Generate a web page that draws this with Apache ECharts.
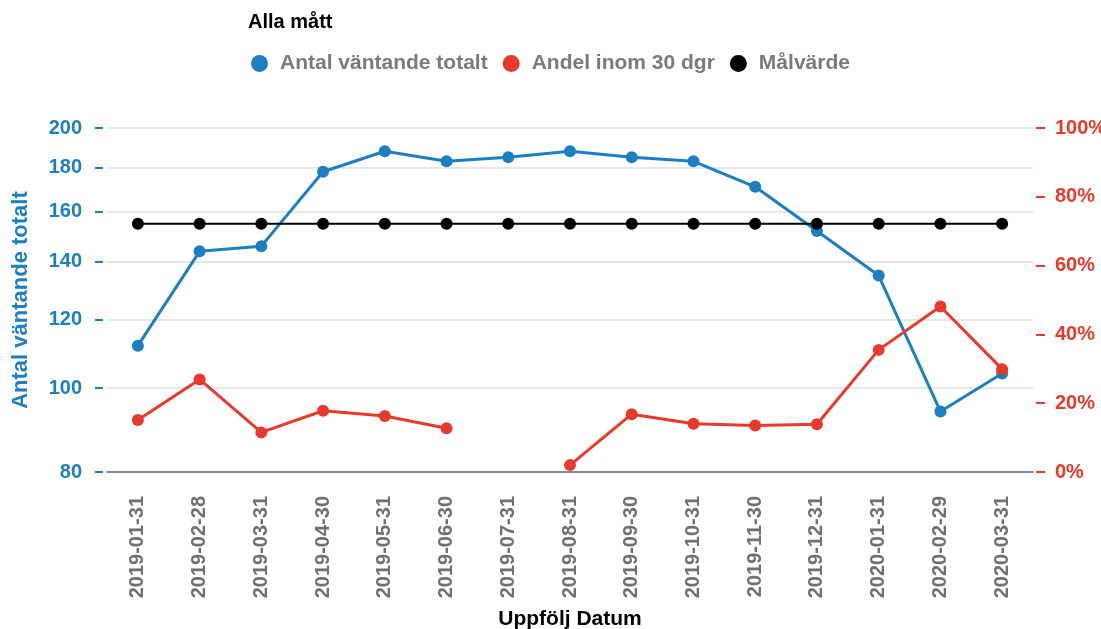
<!DOCTYPE html>
<html>
<head>
<meta charset="utf-8">
<script src="https://cdn.jsdelivr.net/npm/echarts@6/dist/echarts.min.js"></script>
<style>html,body{margin:0;padding:0;background:#fff;}#c{width:1101px;height:629px;}</style>
</head>
<body>
<div id="c"></div>
<script>
const categories = ['2019-01-31','2019-02-28','2019-03-31','2019-04-30','2019-05-31','2019-06-30','2019-07-31','2019-08-31','2019-09-30','2019-10-31','2019-11-30','2019-12-31','2020-01-31','2020-02-29','2020-03-31'];
const antalVantande = [112,144,146,178,188,183,185,188,185,183,171,152,135,94,104];
const andelInom30 = [15.1,26.9,11.5,17.8,16.3,12.7,null,2.0,16.8,14.0,13.5,13.9,35.5,48.1,29.9];
const malvarde = [155,155,155,155,155,155,155,155,155,155,155,155,155,155,155];
const leftTicks = [80,100,120,140,160,180,200];

const BLUE = '#1b7fc1', RED = '#e63b2a', FONT = '"Liberation Sans", Arial, sans-serif';
const chart = echarts.init(document.getElementById('c'));
chart.setOption({
  animation: false,
  textStyle: {fontFamily: FONT},
  title: {text: 'Alla mått', left: 243, top: 7, textStyle: {fontSize: 20, fontWeight: 'bold', color: '#000', fontFamily: FONT}},
  legend: {
    left: 246, top: 48, itemWidth: 17, itemHeight: 17, itemGap: 15, icon: 'circle',
    textStyle: {fontSize: 21, fontWeight: 'bold', color: '#7a7a7a', fontFamily: FONT, padding: [0,0,0,7]},
    data: ['Antal väntande totalt','Andel inom 30 dgr','Målvärde']
  },
  grid: {left: 107, right: 68, top: 128, bottom: 157, outerBoundsMode: 'none', containLabel: false},
  xAxis: {
    type: 'category', data: categories,
    name: 'Uppfölj Datum', nameLocation: 'middle', nameGap: 137,
    nameTextStyle: {fontSize: 21, fontWeight: 'bold', color: '#000'},
    axisLine: {lineStyle: {color: '#8a8a8a', width: 2}},
    axisTick: {alignWithLabel: true, length: 8, lineStyle: {color: '#8a8a8a', width: 2}},
    axisLabel: {rotate: 90, margin: 24, fontSize: 20, fontWeight: 'bold', color: '#707070'}
  },
  yAxis: [{
    type: 'log', min: 80, max: 200, offset: 4,
    name: 'Antal väntande totalt', nameLocation: 'middle', nameGap: 71,
    nameTextStyle: {fontSize: 22, fontWeight: 'bold', color: BLUE},
    axisLine: {show: false},
    axisTick: {show: true, length: 8, customValues: leftTicks, lineStyle: {color: BLUE, width: 2}},
    axisLabel: {margin: 21, fontSize: 20, fontWeight: 'bold', color: BLUE, customValues: leftTicks},
    splitLine: {show: true, lineStyle: {color: '#e6e6e6', width: 2}}
  }, {
    type: 'value', min: 0, max: 100, interval: 20, offset: 3, position: 'right',
    axisLine: {show: false},
    axisTick: {show: true, length: 9, lineStyle: {color: RED, width: 2}},
    axisLabel: {margin: 19, fontSize: 20, fontWeight: 'bold', color: RED, formatter: '{value}%'},
    splitLine: {show: false}
  }],
  series: [{
    name: 'Antal väntande totalt', type: 'line', yAxisIndex: 0, data: antalVantande,
    symbol: 'circle', symbolSize: 12, itemStyle: {color: BLUE}, lineStyle: {color: BLUE, width: 3}, z: 3
  }, {
    name: 'Andel inom 30 dgr', type: 'line', yAxisIndex: 1, data: andelInom30, connectNulls: false,
    symbol: 'circle', symbolSize: 12, itemStyle: {color: RED}, lineStyle: {color: RED, width: 3}, z: 4
  }, {
    name: 'Målvärde', type: 'line', yAxisIndex: 0, data: malvarde,
    symbol: 'circle', symbolSize: 12, itemStyle: {color: '#000'}, lineStyle: {color: '#000', width: 2}, z: 5
  }]
});
</script>
</body>
</html>
